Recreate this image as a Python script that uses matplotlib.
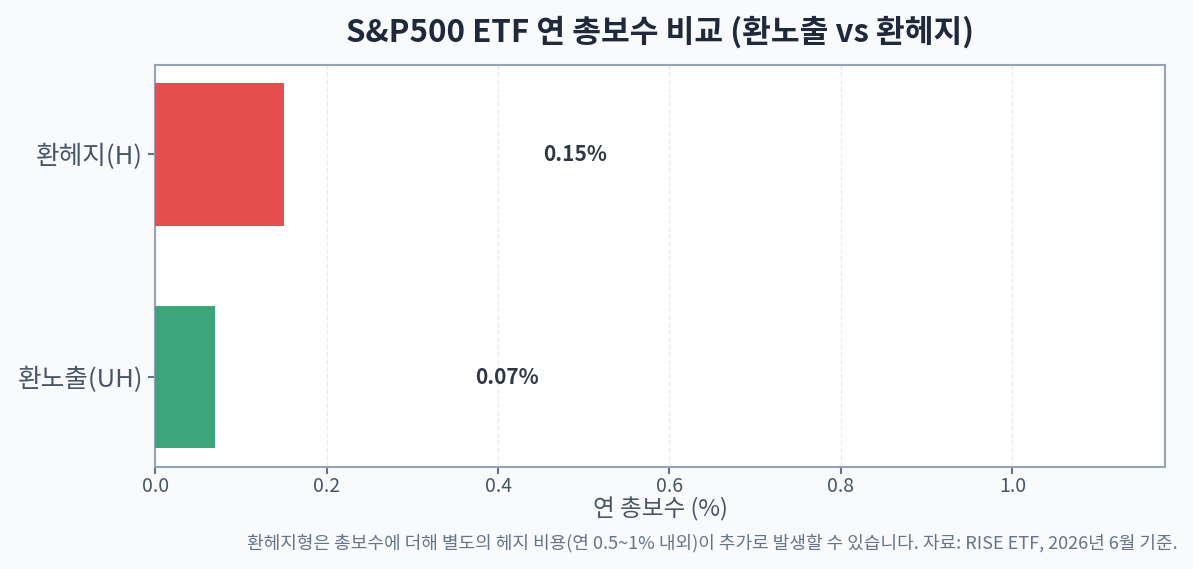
import matplotlib.pyplot as plt

plt.rcParams['font.family'] = ['Noto Sans CJK KR', 'DejaVu Sans']

# data
categories = ['환노출(UH)', '환헤지(H)']
fees = [0.07, 0.15]
bar_colors = ['#3ca67a', '#e64e4e']
x_ticks = [0.0, 0.2, 0.4, 0.6, 0.8, 1.0]

fig, ax = plt.subplots(figsize=(11.93, 5.69), dpi=100)
fig.patch.set_facecolor('#f8fafc')
ax.set_facecolor('white')
fig.subplots_adjust(left=0.13, right=0.9765, top=0.886, bottom=0.18)

ypos = list(range(len(categories)))
ax.barh(ypos, fees, height=0.64, color=bar_colors, zorder=3)

for y, v in zip(ypos, fees):
    ax.text(v + 0.303, y, f'{v:.2f}%', ha='left', va='center',
            fontsize=15, fontweight='bold', color='#2d3748', zorder=4)

ax.set_yticks(ypos)
ax.set_yticklabels(categories, fontsize=18.5, color='#475569')
ax.set_xticks(x_ticks)
ax.set_xticklabels([f'{t:.1f}' for t in x_ticks], fontsize=14, color='#475569')
ax.set_xlim(0, 1.178)

ax.grid(axis='x', linestyle='--', color='#e2e8f0', linewidth=1, alpha=0.8, zorder=0)
ax.set_axisbelow(True)

for s in ax.spines.values():
    s.set_color('#94a3b8')
    s.set_linewidth(1.5)
ax.tick_params(axis='both', color='#64748b', width=1.5, length=5)
ax.tick_params(axis='x', pad=2)

ax.set_xlabel('연 총보수 (%)', fontsize=17, color='#475569', labelpad=0)
ax.set_title('S&P500 ETF 연 총보수 비교 (환노출 vs 환헤지)', fontsize=22.5,
             fontweight='bold', color='#1e293b', pad=17)

fig.text(0.9875, 0.045,
         '환헤지형은 총보수에 더해 별도의 헤지 비용(연 0.5~1% 내외)이 추가로 발생할 수 있습니다. 자료: RISE ETF, 2026년 6월 기준.',
         ha='right', va='center', fontsize=13, color='#64748b')

plt.savefig('out.png', dpi=100, facecolor=fig.get_facecolor())
